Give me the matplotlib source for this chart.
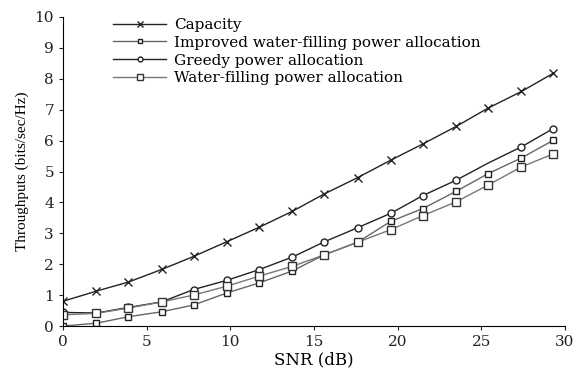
import matplotlib
matplotlib.use('Agg')
import matplotlib.pyplot as plt

# SNR-Stuetzstellen (dB)
snr = [0, 2, 3.9, 5.9, 7.8, 9.8, 11.7, 13.7, 15.6, 17.6, 19.6, 21.5, 23.5, 25.4, 27.4, 29.3]

capacity = [0.80, 1.13, 1.42, 1.83, 2.25, 2.73, 3.19, 3.71, 4.27, 4.80, 5.37, 5.89, 6.46, 7.05, 7.59, 8.18]
improved = [0.0, 0.09, 0.30, 0.46, 0.68, 1.07, 1.39, 1.78, 2.30, 2.71, 3.39, 3.80, 4.36, 4.93, 5.44, 6.01]
greedy = [0.44, 0.42, 0.60, 0.78, 1.18, 1.48, 1.82, 2.23, 2.72, 3.18, 3.65, 4.22, 4.72, 5.27, 5.80, 6.39]
waterfill = [0.36, 0.41, 0.58, 0.78, 1.00, 1.29, 1.61, 1.93, 2.30, 2.71, 3.12, 3.57, 4.02, 4.56, 5.15, 5.57]

labels = ["Capacity", "Improved water-filling power allocation",
          "Greedy power allocation", "Water-filling power allocation"]

# Breite Serifenschrift fuer waagrechten Text (Vorlage ist horizontal gestreckt)
plt.rcParams['font.family'] = ['DejaVu Serif']

fig = plt.figure(figsize=(5.76, 3.71), dpi=100)
ax = fig.add_axes([63/576, 45/371, 502/576, 309/371])

ax.plot(snr, capacity, color='#222222', lw=1, marker='x', ms=6, mew=1, label=labels[0])
ax.plot(snr, improved, color='#666666', lw=1, marker='s', ms=4, mfc='white', mec='#222222', mew=1, label=labels[1])
ax.plot(snr, greedy, color='#222222', lw=1, marker='o', ms=5, mfc='white', mec='#222222', mew=1,
        markevery=[i for i in range(len(snr)) if i != 13], label=labels[2])
ax.plot(snr, waterfill, color='#777777', lw=1, marker='s', ms=6, mfc='white', mec='#333333', mew=1, label=labels[3])

ax.set_xlim(0, 30)
ax.set_ylim(0, 10)
ax.set_xticks([0, 5, 10, 15, 20, 25, 30])
ax.set_yticks(range(0, 11))
ax.spines['top'].set_visible(False)
ax.spines['right'].set_visible(False)
ax.tick_params(direction='out', length=3, labelsize=11, colors='#222222')
ax.set_xlabel('SNR (dB)', fontsize=12, labelpad=2)
ax.set_ylabel('Throughputs (bits/sec/Hz)', fontsize=11, labelpad=4, family='Liberation Serif')

ax.legend(loc='upper left', bbox_to_anchor=(113/576, 1 - 18/371), bbox_transform=fig.transFigure,
          frameon=False, fontsize=11, handlelength=3.5, handletextpad=0.5, markerscale=0.7,
          labelspacing=0.25, borderpad=0, borderaxespad=0)

plt.savefig("out.png", dpi=100)
